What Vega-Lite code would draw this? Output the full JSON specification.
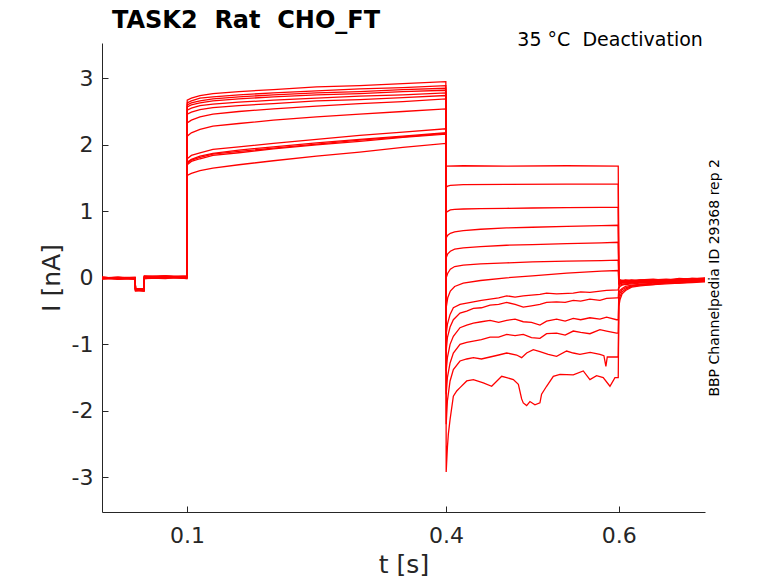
{
  "$schema": "https://vega.github.io/schema/vega-lite/v6.json",
  "width": 603,
  "height": 469,
  "autosize": {"type": "none"},
  "padding": {"left": 102, "top": 43, "right": 73, "bottom": 71},
  "background": "white",
  "config": {
    "view": {"stroke": null},
    "font": "DejaVu Sans",
    "axis": {
      "grid": false,
      "domainColor": "#262626",
      "tickColor": "#262626",
      "labelColor": "#262626",
      "titleColor": "#262626",
      "labelFont": "DejaVu Sans",
      "titleFont": "DejaVu Sans",
      "labelFontSize": 22,
      "titleFontSize": 25,
      "titleFontWeight": "normal",
      "tickSize": -6
    }
  },
  "title": {
    "text": "TASK2\u00a0\u00a0Rat\u00a0\u00a0CHO_FT",
    "anchor": "start",
    "frame": "group",
    "font": "DejaVu Sans",
    "fontSize": 24,
    "fontWeight": "bold",
    "color": "black",
    "dx": 10,
    "dy": 18,
    "offset": 16
  },
  "layer": [
    {
      "data": {"values": [
        {"k":1,"t":0.0015,"i":0},{"k":1,"t":0.02,"i":-0.01},{"k":1,"t":0.0399,"i":0},{"k":1,"t":0.0403,"i":-0.17},{"k":1,"t":0.0502,"i":-0.18},{"k":1,"t":0.0506,"i":0.01},{"k":1,"t":0.075,"i":0.02},{"k":1,"t":0.0998,"i":0.01},
        {"k":1,"t":0.1002,"i":2.67},{"k":1,"t":0.105,"i":2.70},{"k":1,"t":0.115,"i":2.74},{"k":1,"t":0.13,"i":2.77},{"k":1,"t":0.16,"i":2.80},{"k":1,"t":0.2,"i":2.83},{"k":1,"t":0.25,"i":2.87},{"k":1,"t":0.3,"i":2.89},{"k":1,"t":0.35,"i":2.92},{"k":1,"t":0.3998,"i":2.95},
        {"k":1,"t":0.4002,"i":1.68},{"k":1,"t":0.42,"i":1.685},{"k":1,"t":0.47,"i":1.68},{"k":1,"t":0.54,"i":1.685},{"k":1,"t":0.5995,"i":1.68},
        {"k":1,"t":0.6002,"i":-0.04},{"k":1,"t":0.6015,"i":-0.03},{"k":1,"t":0.604,"i":-0.04},{"k":1,"t":0.608,"i":-0.03},{"k":1,"t":0.615,"i":-0.05},{"k":1,"t":0.625,"i":-0.03},{"k":1,"t":0.64,"i":-0.02},{"k":1,"t":0.655,"i":-0.04},{"k":1,"t":0.67,"i":-0.01},{"k":1,"t":0.685,"i":-0.02},{"k":1,"t":0.7,"i":0.0},

        {"k":2,"t":0.0015,"i":-0.01},{"k":2,"t":0.02,"i":0},{"k":2,"t":0.0399,"i":-0.01},{"k":2,"t":0.0403,"i":-0.16},{"k":2,"t":0.0502,"i":-0.17},{"k":2,"t":0.0506,"i":0},{"k":2,"t":0.075,"i":0.01},{"k":2,"t":0.0998,"i":0.02},
        {"k":2,"t":0.1002,"i":2.63},{"k":2,"t":0.105,"i":2.66},{"k":2,"t":0.115,"i":2.70},{"k":2,"t":0.13,"i":2.72},{"k":2,"t":0.16,"i":2.75},{"k":2,"t":0.2,"i":2.78},{"k":2,"t":0.25,"i":2.81},{"k":2,"t":0.3,"i":2.84},{"k":2,"t":0.35,"i":2.86},{"k":2,"t":0.3998,"i":2.89},
        {"k":2,"t":0.4002,"i":1.36},{"k":2,"t":0.402,"i":1.38},{"k":2,"t":0.405,"i":1.39},{"k":2,"t":0.41,"i":1.395},{"k":2,"t":0.42,"i":1.40},{"k":2,"t":0.47,"i":1.405},{"k":2,"t":0.54,"i":1.41},{"k":2,"t":0.5995,"i":1.41},
        {"k":2,"t":0.6002,"i":-0.05},{"k":2,"t":0.6015,"i":-0.04},{"k":2,"t":0.604,"i":-0.05},{"k":2,"t":0.608,"i":-0.04},{"k":2,"t":0.615,"i":-0.03},{"k":2,"t":0.625,"i":-0.05},{"k":2,"t":0.64,"i":-0.03},{"k":2,"t":0.655,"i":-0.02},{"k":2,"t":0.67,"i":-0.03},{"k":2,"t":0.685,"i":-0.01},{"k":2,"t":0.7,"i":-0.01},

        {"k":3,"t":0.0015,"i":0.01},{"k":3,"t":0.02,"i":-0.01},{"k":3,"t":0.0399,"i":-0.01},{"k":3,"t":0.0403,"i":-0.18},{"k":3,"t":0.0502,"i":-0.19},{"k":3,"t":0.0506,"i":0.02},{"k":3,"t":0.075,"i":0},{"k":3,"t":0.0998,"i":0},
        {"k":3,"t":0.1002,"i":2.60},{"k":3,"t":0.105,"i":2.63},{"k":3,"t":0.115,"i":2.66},{"k":3,"t":0.13,"i":2.69},{"k":3,"t":0.16,"i":2.72},{"k":3,"t":0.2,"i":2.75},{"k":3,"t":0.25,"i":2.78},{"k":3,"t":0.3,"i":2.80},{"k":3,"t":0.35,"i":2.83},{"k":3,"t":0.3998,"i":2.85},
        {"k":3,"t":0.4002,"i":0.98},{"k":3,"t":0.402,"i":1.00},{"k":3,"t":0.405,"i":1.02},{"k":3,"t":0.41,"i":1.03},{"k":3,"t":0.42,"i":1.035},{"k":3,"t":0.44,"i":1.04},{"k":3,"t":0.47,"i":1.045},{"k":3,"t":0.5,"i":1.05},{"k":3,"t":0.54,"i":1.055},{"k":3,"t":0.58,"i":1.06},{"k":3,"t":0.5995,"i":1.06},
        {"k":3,"t":0.6002,"i":-0.06},{"k":3,"t":0.6015,"i":-0.05},{"k":3,"t":0.604,"i":-0.04},{"k":3,"t":0.608,"i":-0.05},{"k":3,"t":0.615,"i":-0.04},{"k":3,"t":0.625,"i":-0.03},{"k":3,"t":0.64,"i":-0.04},{"k":3,"t":0.655,"i":-0.03},{"k":3,"t":0.67,"i":-0.02},{"k":3,"t":0.685,"i":-0.03},{"k":3,"t":0.7,"i":-0.01},

        {"k":4,"t":0.0015,"i":-0.01},{"k":4,"t":0.02,"i":-0.02},{"k":4,"t":0.0399,"i":0},{"k":4,"t":0.0403,"i":-0.17},{"k":4,"t":0.0502,"i":-0.16},{"k":4,"t":0.0506,"i":0.01},{"k":4,"t":0.075,"i":0.03},{"k":4,"t":0.0998,"i":0.01},
        {"k":4,"t":0.1002,"i":2.57},{"k":4,"t":0.105,"i":2.60},{"k":4,"t":0.115,"i":2.63},{"k":4,"t":0.13,"i":2.66},{"k":4,"t":0.16,"i":2.69},{"k":4,"t":0.2,"i":2.72},{"k":4,"t":0.25,"i":2.75},{"k":4,"t":0.3,"i":2.77},{"k":4,"t":0.35,"i":2.80},{"k":4,"t":0.3998,"i":2.82},
        {"k":4,"t":0.4002,"i":0.60},{"k":4,"t":0.402,"i":0.64},{"k":4,"t":0.405,"i":0.67},{"k":4,"t":0.41,"i":0.69},{"k":4,"t":0.42,"i":0.71},{"k":4,"t":0.44,"i":0.73},{"k":4,"t":0.47,"i":0.75},{"k":4,"t":0.5,"i":0.76},{"k":4,"t":0.54,"i":0.775},{"k":4,"t":0.58,"i":0.785},{"k":4,"t":0.5995,"i":0.79},
        {"k":4,"t":0.6002,"i":-0.07},{"k":4,"t":0.6015,"i":-0.06},{"k":4,"t":0.604,"i":-0.05},{"k":4,"t":0.608,"i":-0.06},{"k":4,"t":0.615,"i":-0.05},{"k":4,"t":0.625,"i":-0.04},{"k":4,"t":0.64,"i":-0.03},{"k":4,"t":0.655,"i":-0.04},{"k":4,"t":0.67,"i":-0.02},{"k":4,"t":0.685,"i":-0.01},{"k":4,"t":0.7,"i":-0.02},

        {"k":5,"t":0.0015,"i":0},{"k":5,"t":0.02,"i":0.01},{"k":5,"t":0.0399,"i":-0.02},{"k":5,"t":0.0403,"i":-0.19},{"k":5,"t":0.0502,"i":-0.20},{"k":5,"t":0.0506,"i":-0.01},{"k":5,"t":0.075,"i":0.01},{"k":5,"t":0.0998,"i":0.03},
        {"k":5,"t":0.1002,"i":2.52},{"k":5,"t":0.105,"i":2.55},{"k":5,"t":0.115,"i":2.59},{"k":5,"t":0.13,"i":2.61},{"k":5,"t":0.16,"i":2.64},{"k":5,"t":0.2,"i":2.67},{"k":5,"t":0.25,"i":2.70},{"k":5,"t":0.3,"i":2.73},{"k":5,"t":0.35,"i":2.75},{"k":5,"t":0.3998,"i":2.78},
        {"k":5,"t":0.4002,"i":0.30},{"k":5,"t":0.402,"i":0.36},{"k":5,"t":0.405,"i":0.40},{"k":5,"t":0.41,"i":0.43},{"k":5,"t":0.42,"i":0.45},{"k":5,"t":0.44,"i":0.47},{"k":5,"t":0.47,"i":0.49},{"k":5,"t":0.5,"i":0.50},{"k":5,"t":0.54,"i":0.515},{"k":5,"t":0.58,"i":0.525},{"k":5,"t":0.5995,"i":0.535},
        {"k":5,"t":0.6002,"i":-0.08},{"k":5,"t":0.6015,"i":-0.07},{"k":5,"t":0.604,"i":-0.06},{"k":5,"t":0.608,"i":-0.06},{"k":5,"t":0.615,"i":-0.05},{"k":5,"t":0.625,"i":-0.06},{"k":5,"t":0.64,"i":-0.04},{"k":5,"t":0.655,"i":-0.03},{"k":5,"t":0.67,"i":-0.04},{"k":5,"t":0.685,"i":-0.02},{"k":5,"t":0.7,"i":-0.02},

        {"k":6,"t":0.0015,"i":-0.02},{"k":6,"t":0.02,"i":0},{"k":6,"t":0.0399,"i":-0.01},{"k":6,"t":0.0403,"i":-0.16},{"k":6,"t":0.0502,"i":-0.18},{"k":6,"t":0.0506,"i":0.02},{"k":6,"t":0.075,"i":0.02},{"k":6,"t":0.0998,"i":-0.01},
        {"k":6,"t":0.1002,"i":2.46},{"k":6,"t":0.105,"i":2.49},{"k":6,"t":0.115,"i":2.53},{"k":6,"t":0.13,"i":2.56},{"k":6,"t":0.16,"i":2.59},{"k":6,"t":0.2,"i":2.62},{"k":6,"t":0.25,"i":2.66},{"k":6,"t":0.3,"i":2.68},{"k":6,"t":0.35,"i":2.71},{"k":6,"t":0.3998,"i":2.74},
        {"k":6,"t":0.4002,"i":0.00},{"k":6,"t":0.402,"i":0.07},{"k":6,"t":0.405,"i":0.13},{"k":6,"t":0.41,"i":0.17},{"k":6,"t":0.42,"i":0.19},{"k":6,"t":0.44,"i":0.21},{"k":6,"t":0.47,"i":0.225},{"k":6,"t":0.5,"i":0.24},{"k":6,"t":0.54,"i":0.25},{"k":6,"t":0.58,"i":0.26},{"k":6,"t":0.5995,"i":0.265},
        {"k":6,"t":0.6002,"i":-0.09},{"k":6,"t":0.6015,"i":-0.08},{"k":6,"t":0.604,"i":-0.07},{"k":6,"t":0.608,"i":-0.07},{"k":6,"t":0.615,"i":-0.06},{"k":6,"t":0.625,"i":-0.05},{"k":6,"t":0.64,"i":-0.05},{"k":6,"t":0.655,"i":-0.04},{"k":6,"t":0.67,"i":-0.03},{"k":6,"t":0.685,"i":-0.04},{"k":6,"t":0.7,"i":-0.03},

        {"k":7,"t":0.0015,"i":0.01},{"k":7,"t":0.02,"i":-0.01},{"k":7,"t":0.0399,"i":0},{"k":7,"t":0.0403,"i":-0.18},{"k":7,"t":0.0502,"i":-0.17},{"k":7,"t":0.0506,"i":0},{"k":7,"t":0.075,"i":-0.01},{"k":7,"t":0.0998,"i":0.02},
        {"k":7,"t":0.1002,"i":2.33},{"k":7,"t":0.105,"i":2.37},{"k":7,"t":0.115,"i":2.42},{"k":7,"t":0.13,"i":2.46},{"k":7,"t":0.16,"i":2.50},{"k":7,"t":0.2,"i":2.54},{"k":7,"t":0.25,"i":2.58},{"k":7,"t":0.3,"i":2.62},{"k":7,"t":0.35,"i":2.65},{"k":7,"t":0.3998,"i":2.69},
        {"k":7,"t":0.4002,"i":-0.45},{"k":7,"t":0.402,"i":-0.30},{"k":7,"t":0.405,"i":-0.20},{"k":7,"t":0.41,"i":-0.13},{"k":7,"t":0.42,"i":-0.08},{"k":7,"t":0.44,"i":-0.04},{"k":7,"t":0.47,"i":0.00},{"k":7,"t":0.5,"i":0.03},{"k":7,"t":0.54,"i":0.07},{"k":7,"t":0.58,"i":0.10},{"k":7,"t":0.5995,"i":0.11},
        {"k":7,"t":0.6002,"i":-0.11},{"k":7,"t":0.6015,"i":-0.09},{"k":7,"t":0.604,"i":-0.08},{"k":7,"t":0.608,"i":-0.08},{"k":7,"t":0.615,"i":-0.07},{"k":7,"t":0.625,"i":-0.06},{"k":7,"t":0.64,"i":-0.06},{"k":7,"t":0.655,"i":-0.05},{"k":7,"t":0.67,"i":-0.04},{"k":7,"t":0.685,"i":-0.03},{"k":7,"t":0.7,"i":-0.03},

        {"k":8,"t":0.0015,"i":0},{"k":8,"t":0.02,"i":-0.02},{"k":8,"t":0.0399,"i":-0.01},{"k":8,"t":0.0403,"i":-0.17},{"k":8,"t":0.0502,"i":-0.19},{"k":8,"t":0.0506,"i":0.03},{"k":8,"t":0.075,"i":0.01},{"k":8,"t":0.0998,"i":0},
        {"k":8,"t":0.1002,"i":2.13},{"k":8,"t":0.105,"i":2.18},{"k":8,"t":0.115,"i":2.23},{"k":8,"t":0.13,"i":2.28},{"k":8,"t":0.16,"i":2.32},{"k":8,"t":0.2,"i":2.37},{"k":8,"t":0.25,"i":2.42},{"k":8,"t":0.3,"i":2.46},{"k":8,"t":0.35,"i":2.50},{"k":8,"t":0.3998,"i":2.54},
        {"k":8,"t":0.4002,"i":-0.85},{"k":8,"t":0.4016,"i":-0.70},{"k":8,"t":0.4047,"i":-0.55},{"k":8,"t":0.4085,"i":-0.45},{"k":8,"t":0.4162,"i":-0.40},{"k":8,"t":0.424,"i":-0.38},{"k":8,"t":0.4317,"i":-0.36},{"k":8,"t":0.441,"i":-0.34},{"k":8,"t":0.451,"i":-0.32},{"k":8,"t":0.461,"i":-0.30},{"k":8,"t":0.4703,"i":-0.27},{"k":8,"t":0.48,"i":-0.29},{"k":8,"t":0.4895,"i":-0.27},{"k":8,"t":0.499,"i":-0.26},{"k":8,"t":0.5088,"i":-0.25},{"k":8,"t":0.5165,"i":-0.23},{"k":8,"t":0.5281,"i":-0.24},{"k":8,"t":0.5474,"i":-0.23},{"k":8,"t":0.556,"i":-0.21},{"k":8,"t":0.5667,"i":-0.22},{"k":8,"t":0.586,"i":-0.19},{"k":8,"t":0.5995,"i":-0.18},
        {"k":8,"t":0.6002,"i":-0.13},{"k":8,"t":0.6015,"i":-0.11},{"k":8,"t":0.604,"i":-0.10},{"k":8,"t":0.608,"i":-0.09},{"k":8,"t":0.615,"i":-0.08},{"k":8,"t":0.625,"i":-0.07},{"k":8,"t":0.64,"i":-0.06},{"k":8,"t":0.655,"i":-0.06},{"k":8,"t":0.67,"i":-0.04},{"k":8,"t":0.685,"i":-0.05},{"k":8,"t":0.7,"i":-0.03},

        {"k":9,"t":0.0015,"i":-0.01},{"k":9,"t":0.02,"i":0.01},{"k":9,"t":0.0399,"i":0},{"k":9,"t":0.0403,"i":-0.19},{"k":9,"t":0.0502,"i":-0.18},{"k":9,"t":0.0506,"i":0.01},{"k":9,"t":0.075,"i":0.02},{"k":9,"t":0.0998,"i":0.02},
        {"k":9,"t":0.1002,"i":1.79},{"k":9,"t":0.105,"i":1.84},{"k":9,"t":0.115,"i":1.88},{"k":9,"t":0.13,"i":1.93},{"k":9,"t":0.16,"i":1.97},{"k":9,"t":0.2,"i":2.02},{"k":9,"t":0.25,"i":2.08},{"k":9,"t":0.3,"i":2.14},{"k":9,"t":0.35,"i":2.19},{"k":9,"t":0.3998,"i":2.24},
        {"k":9,"t":0.4002,"i":-1.10},{"k":9,"t":0.4016,"i":-0.90},{"k":9,"t":0.4047,"i":-0.74},{"k":9,"t":0.4085,"i":-0.63},{"k":9,"t":0.4162,"i":-0.53},{"k":9,"t":0.424,"i":-0.50},{"k":9,"t":0.4317,"i":-0.46},{"k":9,"t":0.441,"i":-0.45},{"k":9,"t":0.451,"i":-0.41},{"k":9,"t":0.461,"i":-0.40},{"k":9,"t":0.4703,"i":-0.37},{"k":9,"t":0.48,"i":-0.40},{"k":9,"t":0.4895,"i":-0.44},{"k":9,"t":0.499,"i":-0.42},{"k":9,"t":0.5088,"i":-0.40},{"k":9,"t":0.5165,"i":-0.37},{"k":9,"t":0.5281,"i":-0.36},{"k":9,"t":0.538,"i":-0.37},{"k":9,"t":0.5474,"i":-0.34},{"k":9,"t":0.556,"i":-0.35},{"k":9,"t":0.5667,"i":-0.32},{"k":9,"t":0.5783,"i":-0.34},{"k":9,"t":0.586,"i":-0.31},{"k":9,"t":0.5976,"i":-0.30},{"k":9,"t":0.5995,"i":-0.30},
        {"k":9,"t":0.6002,"i":-0.16},{"k":9,"t":0.6015,"i":-0.13},{"k":9,"t":0.604,"i":-0.11},{"k":9,"t":0.608,"i":-0.10},{"k":9,"t":0.615,"i":-0.09},{"k":9,"t":0.625,"i":-0.08},{"k":9,"t":0.64,"i":-0.07},{"k":9,"t":0.655,"i":-0.06},{"k":9,"t":0.67,"i":-0.05},{"k":9,"t":0.685,"i":-0.04},{"k":9,"t":0.7,"i":-0.04},

        {"k":10,"t":0.0015,"i":0},{"k":10,"t":0.02,"i":0},{"k":10,"t":0.0399,"i":-0.02},{"k":10,"t":0.0403,"i":-0.16},{"k":10,"t":0.0502,"i":-0.17},{"k":10,"t":0.0506,"i":-0.01},{"k":10,"t":0.075,"i":0},{"k":10,"t":0.0998,"i":0.01},
        {"k":10,"t":0.1002,"i":1.74},{"k":10,"t":0.105,"i":1.78},{"k":10,"t":0.115,"i":1.83},{"k":10,"t":0.13,"i":1.87},{"k":10,"t":0.16,"i":1.92},{"k":10,"t":0.2,"i":1.97},{"k":10,"t":0.25,"i":2.03},{"k":10,"t":0.3,"i":2.08},{"k":10,"t":0.35,"i":2.13},{"k":10,"t":0.3998,"i":2.18},
        {"k":10,"t":0.4002,"i":-1.40},{"k":10,"t":0.4016,"i":-1.20},{"k":10,"t":0.4047,"i":-1.00},{"k":10,"t":0.4085,"i":-0.88},{"k":10,"t":0.4162,"i":-0.75},{"k":10,"t":0.424,"i":-0.71},{"k":10,"t":0.4317,"i":-0.68},{"k":10,"t":0.441,"i":-0.66},{"k":10,"t":0.451,"i":-0.64},{"k":10,"t":0.461,"i":-0.67},{"k":10,"t":0.4703,"i":-0.64},{"k":10,"t":0.48,"i":-0.62},{"k":10,"t":0.4895,"i":-0.66},{"k":10,"t":0.499,"i":-0.67},{"k":10,"t":0.5088,"i":-0.71},{"k":10,"t":0.5165,"i":-0.65},{"k":10,"t":0.5281,"i":-0.62},{"k":10,"t":0.538,"i":-0.65},{"k":10,"t":0.5474,"i":-0.61},{"k":10,"t":0.556,"i":-0.63},{"k":10,"t":0.5667,"i":-0.60},{"k":10,"t":0.5783,"i":-0.62},{"k":10,"t":0.586,"i":-0.59},{"k":10,"t":0.5976,"i":-0.63},{"k":10,"t":0.5995,"i":-0.63},
        {"k":10,"t":0.6002,"i":-0.23},{"k":10,"t":0.6015,"i":-0.19},{"k":10,"t":0.604,"i":-0.16},{"k":10,"t":0.608,"i":-0.13},{"k":10,"t":0.615,"i":-0.11},{"k":10,"t":0.625,"i":-0.10},{"k":10,"t":0.64,"i":-0.08},{"k":10,"t":0.655,"i":-0.07},{"k":10,"t":0.67,"i":-0.06},{"k":10,"t":0.685,"i":-0.05},{"k":10,"t":0.7,"i":-0.04},

        {"k":11,"t":0.0015,"i":0.01},{"k":11,"t":0.02,"i":-0.01},{"k":11,"t":0.0399,"i":-0.01},{"k":11,"t":0.0403,"i":-0.18},{"k":11,"t":0.0502,"i":-0.20},{"k":11,"t":0.0506,"i":0.02},{"k":11,"t":0.075,"i":0.03},{"k":11,"t":0.0998,"i":0},
        {"k":11,"t":0.1002,"i":1.70},{"k":11,"t":0.105,"i":1.75},{"k":11,"t":0.115,"i":1.79},{"k":11,"t":0.13,"i":1.84},{"k":11,"t":0.16,"i":1.88},{"k":11,"t":0.2,"i":1.94},{"k":11,"t":0.25,"i":2.00},{"k":11,"t":0.3,"i":2.05},{"k":11,"t":0.35,"i":2.11},{"k":11,"t":0.3998,"i":2.16},
        {"k":11,"t":0.4002,"i":-1.75},{"k":11,"t":0.4016,"i":-1.50},{"k":11,"t":0.4047,"i":-1.28},{"k":11,"t":0.4085,"i":-1.13},{"k":11,"t":0.4162,"i":-1.00},{"k":11,"t":0.424,"i":-0.97},{"k":11,"t":0.4317,"i":-0.95},{"k":11,"t":0.441,"i":-0.93},{"k":11,"t":0.451,"i":-0.89},{"k":11,"t":0.461,"i":-0.89},{"k":11,"t":0.4703,"i":-0.85},{"k":11,"t":0.48,"i":-0.87},{"k":11,"t":0.4895,"i":-0.85},{"k":11,"t":0.499,"i":-0.90},{"k":11,"t":0.5088,"i":-0.91},{"k":11,"t":0.5165,"i":-0.84},{"k":11,"t":0.5281,"i":-0.83},{"k":11,"t":0.538,"i":-0.86},{"k":11,"t":0.5474,"i":-0.80},{"k":11,"t":0.556,"i":-0.82},{"k":11,"t":0.5667,"i":-0.84},{"k":11,"t":0.5783,"i":-0.78},{"k":11,"t":0.586,"i":-0.80},{"k":11,"t":0.5976,"i":-0.83},{"k":11,"t":0.5995,"i":-0.83},
        {"k":11,"t":0.6002,"i":-0.28},{"k":11,"t":0.6015,"i":-0.23},{"k":11,"t":0.604,"i":-0.18},{"k":11,"t":0.608,"i":-0.15},{"k":11,"t":0.615,"i":-0.12},{"k":11,"t":0.625,"i":-0.10},{"k":11,"t":0.64,"i":-0.09},{"k":11,"t":0.655,"i":-0.07},{"k":11,"t":0.67,"i":-0.07},{"k":11,"t":0.685,"i":-0.05},{"k":11,"t":0.7,"i":-0.05},

        {"k":12,"t":0.0015,"i":-0.01},{"k":12,"t":0.02,"i":0},{"k":12,"t":0.0399,"i":0.01},{"k":12,"t":0.0403,"i":-0.17},{"k":12,"t":0.0502,"i":-0.18},{"k":12,"t":0.0506,"i":0},{"k":12,"t":0.075,"i":0.01},{"k":12,"t":0.0998,"i":-0.01},
        {"k":12,"t":0.1002,"i":1.72},{"k":12,"t":0.105,"i":1.77},{"k":12,"t":0.115,"i":1.81},{"k":12,"t":0.13,"i":1.86},{"k":12,"t":0.16,"i":1.90},{"k":12,"t":0.2,"i":1.95},{"k":12,"t":0.25,"i":2.01},{"k":12,"t":0.3,"i":2.07},{"k":12,"t":0.35,"i":2.12},{"k":12,"t":0.3998,"i":2.17},
        {"k":12,"t":0.4002,"i":-2.20},{"k":12,"t":0.4016,"i":-1.85},{"k":12,"t":0.4047,"i":-1.55},{"k":12,"t":0.4085,"i":-1.38},{"k":12,"t":0.4162,"i":-1.25},{"k":12,"t":0.424,"i":-1.22},{"k":12,"t":0.4317,"i":-1.20},{"k":12,"t":0.441,"i":-1.22},{"k":12,"t":0.451,"i":-1.19},{"k":12,"t":0.461,"i":-1.16},{"k":12,"t":0.4703,"i":-1.13},{"k":12,"t":0.4818,"i":-1.16},{"k":12,"t":0.4876,"i":-1.20},{"k":12,"t":0.4934,"i":-1.13},{"k":12,"t":0.5011,"i":-1.08},{"k":12,"t":0.5088,"i":-1.11},{"k":12,"t":0.5184,"i":-1.15},{"k":12,"t":0.5281,"i":-1.18},{"k":12,"t":0.5397,"i":-1.10},{"k":12,"t":0.5474,"i":-1.13},{"k":12,"t":0.5551,"i":-1.15},{"k":12,"t":0.567,"i":-1.12},{"k":12,"t":0.5783,"i":-1.15},{"k":12,"t":0.5829,"i":-1.17},{"k":12,"t":0.5852,"i":-1.33},{"k":12,"t":0.5868,"i":-1.19},{"k":12,"t":0.5976,"i":-1.19},{"k":12,"t":0.5995,"i":-1.19},
        {"k":12,"t":0.6002,"i":-0.35},{"k":12,"t":0.6015,"i":-0.28},{"k":12,"t":0.604,"i":-0.21},{"k":12,"t":0.608,"i":-0.17},{"k":12,"t":0.615,"i":-0.13},{"k":12,"t":0.625,"i":-0.11},{"k":12,"t":0.64,"i":-0.10},{"k":12,"t":0.655,"i":-0.08},{"k":12,"t":0.67,"i":-0.08},{"k":12,"t":0.685,"i":-0.06},{"k":12,"t":0.7,"i":-0.05},

        {"k":13,"t":0.0015,"i":0},{"k":13,"t":0.02,"i":-0.01},{"k":13,"t":0.0399,"i":-0.01},{"k":13,"t":0.0403,"i":-0.20},{"k":13,"t":0.0502,"i":-0.19},{"k":13,"t":0.0506,"i":0.01},{"k":13,"t":0.075,"i":0.02},{"k":13,"t":0.0998,"i":0.02},
        {"k":13,"t":0.1002,"i":1.54},{"k":13,"t":0.105,"i":1.57},{"k":13,"t":0.115,"i":1.61},{"k":13,"t":0.13,"i":1.65},{"k":13,"t":0.16,"i":1.70},{"k":13,"t":0.2,"i":1.76},{"k":13,"t":0.25,"i":1.83},{"k":13,"t":0.3,"i":1.89},{"k":13,"t":0.35,"i":1.96},{"k":13,"t":0.3998,"i":2.02},
        {"k":13,"t":0.4002,"i":-2.92},{"k":13,"t":0.4016,"i":-2.55},{"k":13,"t":0.4027,"i":-2.35},{"k":13,"t":0.4047,"i":-2.13},{"k":13,"t":0.4085,"i":-1.78},{"k":13,"t":0.4124,"i":-1.70},{"k":13,"t":0.4162,"i":-1.65},{"k":13,"t":0.424,"i":-1.55},{"k":13,"t":0.4317,"i":-1.53},{"k":13,"t":0.4432,"i":-1.58},{"k":13,"t":0.4529,"i":-1.63},{"k":13,"t":0.4645,"i":-1.48},{"k":13,"t":0.4703,"i":-1.50},{"k":13,"t":0.478,"i":-1.53},{"k":13,"t":0.4838,"i":-1.60},{"k":13,"t":0.4876,"i":-1.82},{"k":13,"t":0.4895,"i":-1.88},{"k":13,"t":0.4934,"i":-1.92},{"k":13,"t":0.4972,"i":-1.86},{"k":13,"t":0.503,"i":-1.91},{"k":13,"t":0.5088,"i":-1.88},{"k":13,"t":0.5107,"i":-1.75},{"k":13,"t":0.5165,"i":-1.63},{"k":13,"t":0.5243,"i":-1.48},{"k":13,"t":0.532,"i":-1.45},{"k":13,"t":0.5474,"i":-1.46},{"k":13,"t":0.559,"i":-1.40},{"k":13,"t":0.5667,"i":-1.53},{"k":13,"t":0.5744,"i":-1.47},{"k":13,"t":0.5821,"i":-1.50},{"k":13,"t":0.5899,"i":-1.63},{"k":13,"t":0.5957,"i":-1.50},{"k":13,"t":0.5995,"i":-1.50},
        {"k":13,"t":0.6002,"i":-0.43},{"k":13,"t":0.6015,"i":-0.33},{"k":13,"t":0.604,"i":-0.24},{"k":13,"t":0.608,"i":-0.19},{"k":13,"t":0.615,"i":-0.14},{"k":13,"t":0.625,"i":-0.12},{"k":13,"t":0.64,"i":-0.10},{"k":13,"t":0.655,"i":-0.09},{"k":13,"t":0.67,"i":-0.08},{"k":13,"t":0.685,"i":-0.07},{"k":13,"t":0.7,"i":-0.06}
      ]},
      "mark": {"type": "line", "color": "#ff0000", "strokeWidth": 1.3},
      "encoding": {
        "x": {
          "field": "t", "type": "quantitative",
          "scale": {"domain": [0.0015, 0.7], "nice": false, "zero": false},
          "axis": {"values": [0.1, 0.4, 0.6], "format": ".1f", "title": "t [s]", "labelPadding": 19, "titlePadding": 6}
        },
        "y": {
          "field": "i", "type": "quantitative",
          "scale": {"domain": [-3.52, 3.53], "nice": false, "zero": false},
          "axis": {"values": [-3, -2, -1, 0, 1, 2, 3], "labelExpr": "'' + datum.value", "title": "I [nA]", "labelPadding": 15, "titlePadding": 7}
        },
        "detail": {"field": "k", "type": "nominal"}
      }
    },
    {
      "data": {"values": [{"label": "35 °C\u00a0\u00a0Deactivation"}]},
      "mark": {"type": "text", "align": "right", "baseline": "alphabetic", "fontSize": 19, "font": "DejaVu Sans", "color": "black"},
      "encoding": {
        "x": {"datum": 0.6975, "type": "quantitative"},
        "y": {"datum": 3.48, "type": "quantitative"},
        "text": {"field": "label"}
      }
    },
    {
      "data": {"values": [{"label": "BBP Channelpedia ID 29368 rep 2"}]},
      "mark": {"type": "text", "align": "center", "baseline": "alphabetic", "angle": 270, "fontSize": 14, "font": "DejaVu Sans", "color": "black"},
      "encoding": {
        "x": {"datum": 0.7165, "type": "quantitative"},
        "y": {"datum": 0, "type": "quantitative"},
        "text": {"field": "label"}
      }
    }
  ]
}
